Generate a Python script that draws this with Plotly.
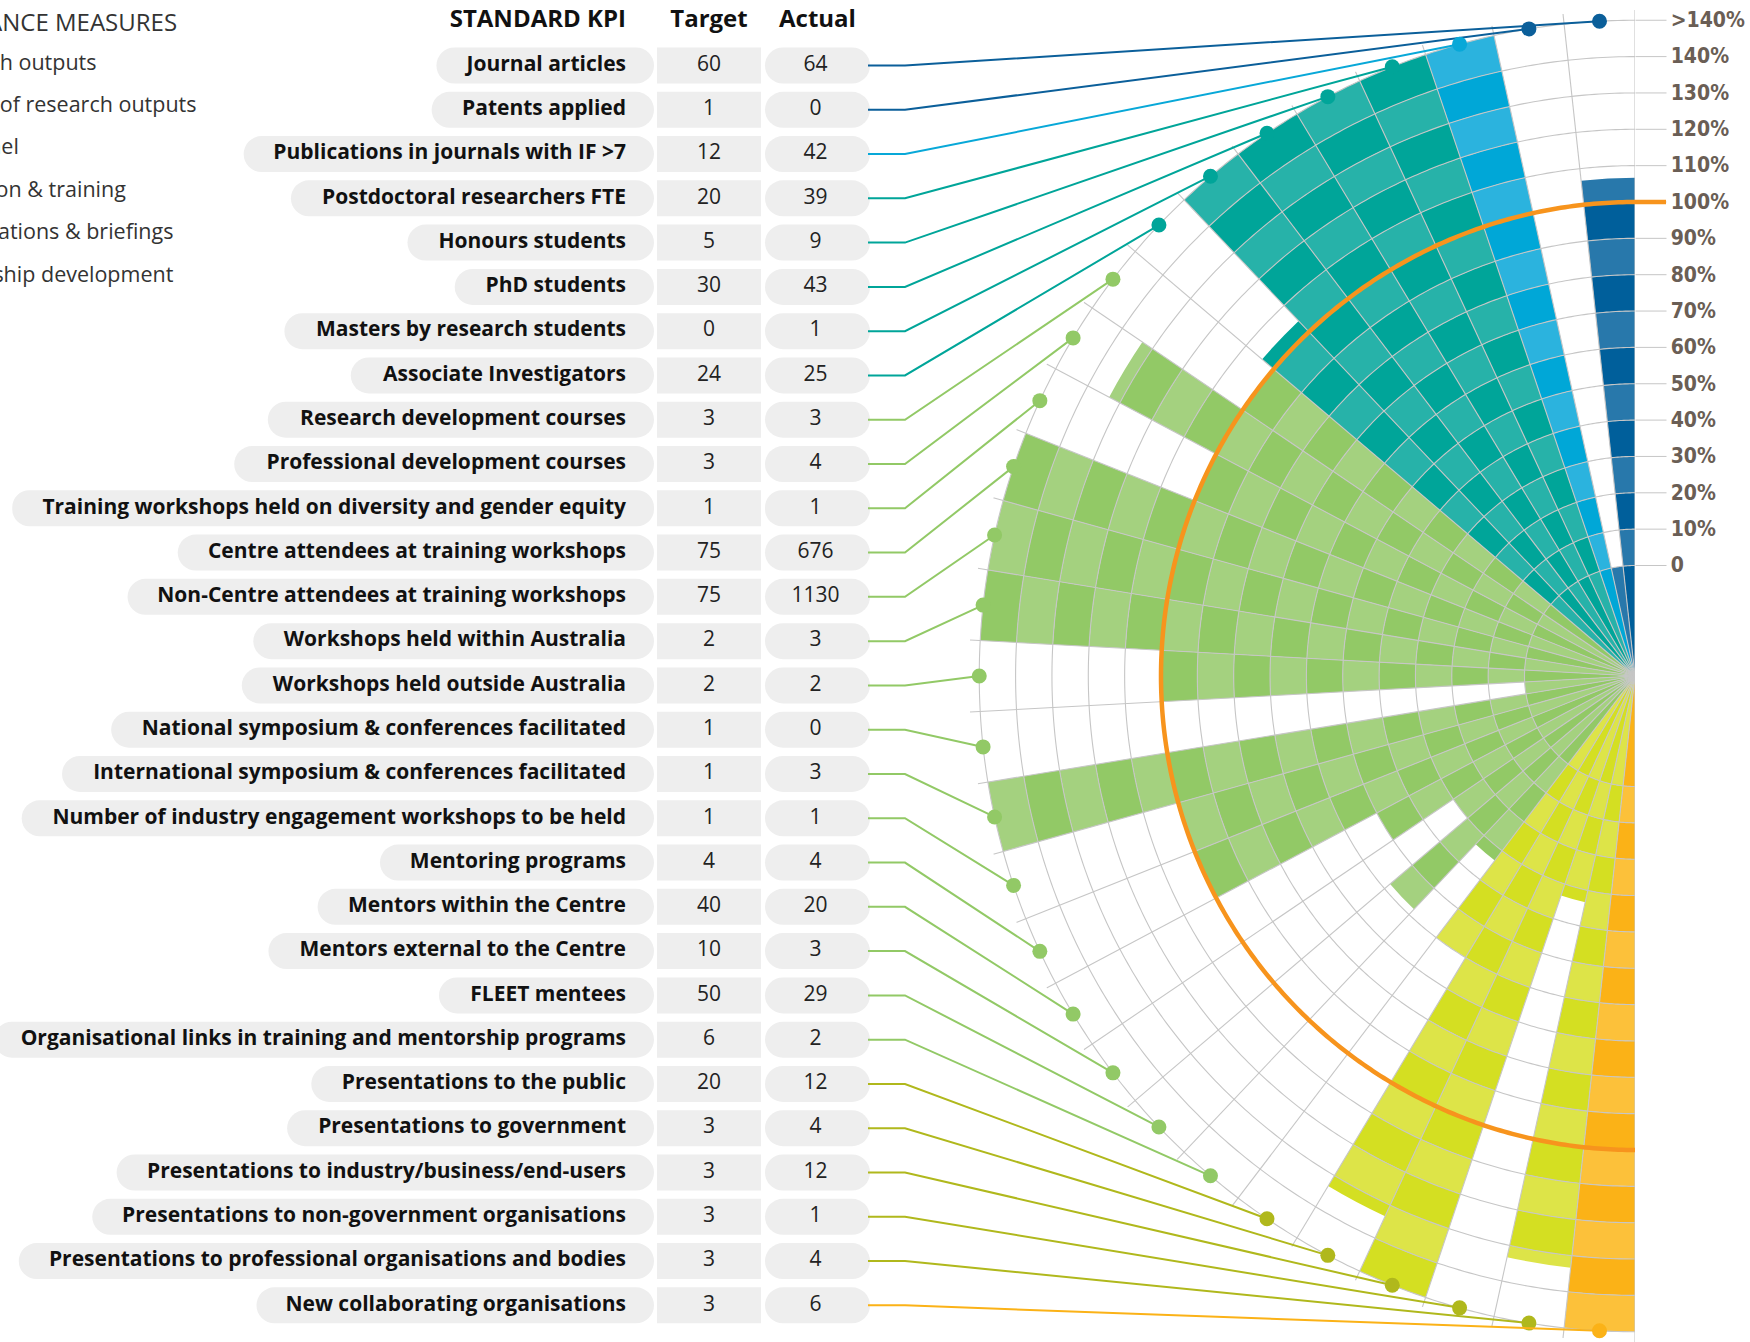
import math
import plotly.graph_objects as go

# ---------------------------------------------------------------- data
kpi_labels = [
    "Journal articles",
    "Patents applied",
    "Publications in journals with IF >7",
    "Postdoctoral researchers FTE",
    "Honours students",
    "PhD students",
    "Masters by research students",
    "Associate Investigators",
    "Research development courses",
    "Professional development courses",
    "Training workshops held on diversity and gender equity",
    "Centre attendees at training workshops",
    "Non-Centre attendees at training workshops",
    "Workshops held within Australia",
    "Workshops held outside Australia",
    "National symposium & conferences facilitated",
    "International symposium & conferences facilitated",
    "Number of industry engagement workshops to be held",
    "Mentoring programs",
    "Mentors within the Centre",
    "Mentors external to the Centre",
    "FLEET mentees",
    "Organisational links in training and mentorship programs",
    "Presentations to the public",
    "Presentations to government",
    "Presentations to industry/business/end-users",
    "Presentations to non-government organisations",
    "Presentations to professional organisations and bodies",
    "New collaborating organisations",
]
targets = [60, 1, 12, 20, 5, 30, 0, 24, 3, 3, 1, 75, 75, 2, 2, 1, 1, 1, 4, 40,
           10, 50, 6, 20, 3, 3, 3, 3, 3]
actuals = [64, 0, 42, 39, 9, 43, 1, 25, 3, 4, 1, 676, 1130, 3, 2, 0, 3, 1, 4, 20,
           3, 29, 2, 12, 4, 12, 1, 4, 6]
kpi_group = [0, 0, 1, 2, 2, 2, 2, 2,
             3, 3, 3, 3, 3, 3, 3, 3, 3, 3, 3, 3, 3, 3, 3,
             4, 4, 4, 4, 4, 5]

group_names = ["Research outputs", "Quality of research outputs", "Personnel",
               "Education & training", "Presentations & briefings",
               "Partnership development"]
group_dark = ["#005f9b", "#00a7d7", "#00a599", "#92c966", "#d4df22", "#fbb217"]
group_light = ["#2878ab", "#2bb3de", "#27b2a9", "#a4d17f", "#dde448", "#fcc13a"]
group_line = ["#0b5f9a", "#08a8d8", "#00a599", "#92c966", "#b0b81c", "#fbb217"]

tick_vals = [0, 10, 20, 30, 40, 50, 60, 70, 80, 90, 100, 110, 120, 130, 140, 150]
tick_text = ["0", "10%", "20%", "30%", "40%", "50%", "60%", "70%", "80%", "90%",
             "100%", "110%", "120%", "130%", "140%", ">140%"]
PCT_CAP = 140      # anything above this is drawn on the ">140%" ring
PCT_OVER = 150

# ---------------------------------------------------------------- geometry
W, H = 1750, 1342
CX, CY = 1635, 676            # centre of the half disc (px)
R_PX = 666                    # outer radius (px)
R_MIN, PX_PER_PCT = -30.4, 3.635
R_MAX = R_MIN + R_PX / PX_PER_PCT
N = len(kpi_labels)
STEP = 180.0 / N
thetas = [90 + (i + 0.5) * STEP for i in range(N)]
bounds = [90 + k * STEP for k in range(N + 1)]

ROW0, ROW_STEP = 65.5, 44.28
row_y = [ROW0 + i * ROW_STEP for i in range(N)]
LABEL_RIGHT = 626
CELL1_END = 654
TGT_X0, TGT_W = 657, 104
ACT_X0, ACT_W = 765, 105
PILL_H = 36
FONT_SIZE = 21


def pct_of(t, a):
    if t == 0:
        return PCT_OVER if a > 0 else 0
    p = a / t * 100.0
    return PCT_OVER if p > PCT_CAP else p


pcts = [pct_of(t, a) for t, a in zip(targets, actuals)]


def polar_px(r, th):
    rad = (r - R_MIN) / (R_MAX - R_MIN) * R_PX
    a = math.radians(th)
    return CX + rad * math.cos(a), CY - rad * math.sin(a)


# rough advance widths (em) for a bold humanist sans
_lw = dict(a=.59, b=.63, c=.52, d=.63, e=.60, f=.40, g=.56, h=.65, i=.30, j=.30,
           k=.62, l=.30, m=.98, n=.65, o=.62, p=.63, q=.63, r=.45, s=.51, t=.43,
           u=.65, v=.58, w=.86, x=.60, y=.58, z=.50)
_uw = dict(A=.70, B=.67, C=.64, D=.73, E=.56, F=.54, G=.72, H=.76, I=.36, J=.33,
           K=.67, L=.56, M=.93, N=.80, O=.78, P=.63, Q=.78, R=.66, S=.56, T=.58,
           U=.75, V=.66, W=.99, X=.66, Y=.63, Z=.58)


def text_width(s, size):
    w = 0.0
    for ch in s:
        if ch in _lw:
            w += _lw[ch]
        elif ch in _uw:
            w += _uw[ch]
        elif ch.isdigit():
            w += .57
        elif ch == " ":
            w += .26
        elif ch == "&":
            w += .75
        elif ch == "/":
            w += .38
        elif ch == "-":
            w += .32
        else:
            w += .57
    return w * size


fig = go.Figure()

# ---------------------------------------------------------------- table
cell_w = [text_width(s, FONT_SIZE) + 59 for s in kpi_labels]
fig.add_trace(go.Bar(orientation="h", y=row_y, x=[-w for w in cell_w],
                     base=[CELL1_END] * N, width=PILL_H,
                     marker=dict(color="#eeeeee", cornerradius=PILL_H / 2,
                                 line=dict(width=0)),
                     hoverinfo="skip", showlegend=False))
fig.add_trace(go.Bar(orientation="h", y=row_y, x=[TGT_W] * N, base=[TGT_X0] * N,
                     width=PILL_H,
                     marker=dict(color="#eeeeee", line=dict(width=0)),
                     hoverinfo="skip", showlegend=False))
fig.add_trace(go.Bar(orientation="h", y=row_y, x=[ACT_W] * N, base=[ACT_X0] * N,
                     width=PILL_H,
                     marker=dict(color="#eeeeee", cornerradius=PILL_H / 2,
                                 line=dict(width=0)),
                     hoverinfo="skip", showlegend=False))

fig.add_trace(go.Scatter(x=[LABEL_RIGHT] * N, y=row_y, mode="text", text=kpi_labels,
                         textposition="middle left",
                         textfont=dict(family="Open Sans", size=FONT_SIZE,
                                       color="#111111", weight=700),
                         hoverinfo="skip", showlegend=False))
fig.add_trace(go.Scatter(x=[TGT_X0 + TGT_W / 2] * N, y=row_y, mode="text",
                         text=[str(v) for v in targets], textposition="middle center",
                         textfont=dict(family="Open Sans", size=FONT_SIZE,
                                       color="#222222"),
                         hoverinfo="skip", showlegend=False))
fig.add_trace(go.Scatter(x=[ACT_X0 + ACT_W / 2 - 2] * N, y=row_y, mode="text",
                         text=[str(v) for v in actuals], textposition="middle center",
                         textfont=dict(family="Open Sans", size=FONT_SIZE,
                                       color="#222222"),
                         hoverinfo="skip", showlegend=False))

HEAD_Y = 21
fig.add_trace(go.Scatter(x=[LABEL_RIGHT], y=[HEAD_Y], mode="text",
                         text=["STANDARD KPI"], textposition="middle left",
                         textfont=dict(family="Open Sans", size=24, color="#111111",
                                       weight=700),
                         hoverinfo="skip", showlegend=False))
fig.add_trace(go.Scatter(x=[TGT_X0 + TGT_W / 2, ACT_X0 + ACT_W / 2], y=[HEAD_Y] * 2,
                         mode="text", text=["Target", "Actual"],
                         textposition="middle center",
                         textfont=dict(family="Open Sans", size=24, color="#111111",
                                       weight=700),
                         hoverinfo="skip", showlegend=False))

# ---------------------------------------------------------------- radial bars
seg = {}
for i, v in enumerate(pcts):
    g = kpi_group[i]
    pieces = [(-1, R_MIN, 0.0)]
    k = 0
    while 10 * k < v:
        pieces.append((k, 10.0 * k, min(10.0 * k + 10, v)))
        k += 1
    for kk, lo, hi in pieces:
        shade = "light" if (i + kk) % 2 == 0 else "dark"
        d = seg.setdefault((g, shade), dict(theta=[], r=[], base=[]))
        d["theta"].append(thetas[i])
        d["base"].append(lo)
        d["r"].append(hi - lo)

for (g, shade), d in seg.items():
    col = group_light[g] if shade == "light" else group_dark[g]
    fig.add_trace(go.Barpolar(theta=d["theta"], r=d["r"], base=d["base"],
                              width=[STEP] * len(d["r"]),
                              marker=dict(color=col, line=dict(width=0)),
                              hoverinfo="skip", showlegend=False))

# grid drawn over the bars: rings at every tick, spokes at every bar edge
arc = [90 + 0.5 * j for j in range(361)]
gr, gt = [], []
for tv in tick_vals:
    gr += [tv] * len(arc) + [None]
    gt += arc + [None]
for b in bounds:
    gr += [R_MIN, R_MAX, None]
    gt += [b, b, None]
fig.add_trace(go.Scatterpolar(r=gr, theta=gt, mode="lines",
                              line=dict(color="#c6c6c6", width=1.1),
                              hoverinfo="skip", showlegend=False))

# 100 % target ring
fig.add_trace(go.Scatterpolar(r=[100] * len(arc), theta=arc, mode="lines",
                              line=dict(color="#f7941d", width=4.5),
                              hoverinfo="skip", showlegend=False))

# ---------------------------------------------------------------- leaders & dots
shapes = []
for i in range(N):
    col = group_line[kpi_group[i]]
    dx, dy = polar_px(PCT_OVER, thetas[i])
    y = row_y[i]
    shapes.append(dict(type="path", xref="x", yref="y", layer="above",
                       path=f"M {ACT_X0 + ACT_W - 2},{y} L 905,{y} L {dx:.2f},{dy:.2f}",
                       line=dict(color=col, width=2)))
    shapes.append(dict(type="circle", xref="x", yref="y", layer="above",
                       x0=dx - 7.5, x1=dx + 7.5, y0=dy - 7.5, y1=dy + 7.5,
                       fillcolor=col, line=dict(width=0)))
tx, ty = polar_px(100, 90)
shapes.append(dict(type="line", xref="x", yref="y", layer="above",
                   x0=tx, x1=tx + 31, y0=ty, y1=ty,
                   line=dict(color="#f7941d", width=4.5)))

# ---------------------------------------------------------------- key (left)
annotations = [dict(xref="x", yref="y", x=179, y=21, xanchor="right", yanchor="middle",
                    text="PERFORMANCE MEASURES", showarrow=False,
                    font=dict(family="Open Sans", size=24, color="#333333"))]
key_right = [99, 199, 21, 128, 175, 176]
for j, name in enumerate(group_names):
    annotations.append(dict(xref="x", yref="y", x=key_right[j], y=61 + j * 42.4,
                            xanchor="right", yanchor="middle", text=name,
                            showarrow=False,
                            font=dict(family="Open Sans", size=21.5, color="#333333")))

fig.update_layout(
    width=W, height=H, margin=dict(l=0, r=0, t=0, b=0),
    paper_bgcolor="white", plot_bgcolor="white",
    barmode="overlay", showlegend=False,
    xaxis=dict(range=[0, W], domain=[0, 1], visible=False, fixedrange=True),
    yaxis=dict(range=[H, 0], domain=[0, 1], visible=False, fixedrange=True),
    polar=dict(
        domain=dict(x=[(CX - R_PX) / W, CX / W], y=[0, 1 - (CY - R_PX) / H]),
        sector=[90, 270], hole=0, bgcolor="rgba(0,0,0,0)", barmode="overlay",
        radialaxis=dict(range=[R_MIN, R_MAX], angle=90, side="clockwise",
                        tickmode="array", tickvals=tick_vals, ticktext=tick_text,
                        ticks="outside", ticklen=31, tickwidth=1, tickcolor="#c6c6c6",
                        tickangle=90, showline=False, showgrid=False,
                        tickfont=dict(family="DejaVu Sans Condensed, Liberation Sans Narrow, sans-serif",
                                      size=21, color="#6a5e55", weight=700)),
        angularaxis=dict(rotation=0, direction="counterclockwise", showline=False,
                         showgrid=False, ticks="", showticklabels=False),
    ),
    shapes=shapes, annotations=annotations,
)

fig.write_html("out.html")
